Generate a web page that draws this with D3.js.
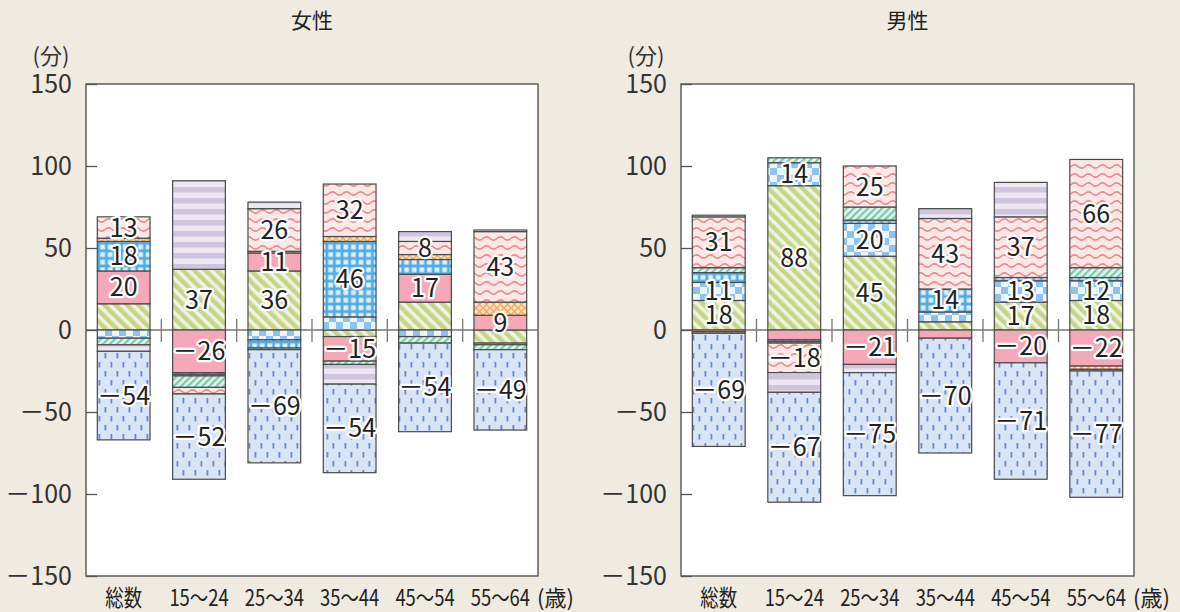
<!DOCTYPE html>
<html lang="ja">
<head>
<meta charset="utf-8">
<script src="https://cdn.jsdelivr.net/npm/d3@7"></script>
<style>
  html, body { margin: 0; padding: 0; background: #efebe1; }
  svg { display: block; }
</style>
</head>
<body>
<svg id="chart" width="1180" height="612"></svg>
<script>
// ---- data (分) ----
const groups = ["総数", "15〜24", "25〜34", "35〜44", "45〜54", "55〜64"];
const seriesKeys = ["green", "pink", "checker", "grid", "orange", "teal", "wave", "purple", "dash"];
const yTicks = [-150, -100, -50, 0, 50, 100, 150];

// 女性
const femaleGreen   = [16, 37, 36, -4, 17, -8];
const femalePink    = [20, -26, 11, -15, 17, 9];
const femaleChecker = [-5, -1, -6, 8, -4, -1];
const femaleGrid    = [18, -1, -5, 46, 9, 0];
const femaleOrange  = [2, 0, 1, 3, 3, 8];
const femaleTeal    = [-4, -7, -1, -2, -4, -3];
const femaleWave    = [13, -4, 26, 32, 8, 43];
const femalePurple  = [-4, 54, 4, -12, 6, 1];
const femaleDash    = [-54, -52, -69, -54, -54, -49];
const femaleLabeled = [
  ["pink", "grid", "wave", "dash"],
  ["green", "pink", "dash"],
  ["green", "pink", "wave", "dash"],
  ["grid", "wave", "pink", "dash"],
  ["pink", "wave", "dash"],
  ["pink", "wave", "dash"]
];

// 男性
const maleGreen   = [18, 88, 45, 5, 17, 18];
const malePink    = [-1, -6, -21, -5, -20, -22];
const maleChecker = [11, 14, 20, 6, 13, 12];
const maleGrid    = [6, -1, 2, 14, 2, 2];
const maleOrange  = [-1, -1, 0, 0, 0, -2];
const maleTeal    = [3, 3, 8, 0, 0, 6];
const maleWave    = [31, -18, 25, 43, 37, 66];
const malePurple  = [1, -12, -5, 6, 21, -1];
const maleDash    = [-69, -67, -75, -70, -71, -77];
const maleLabeled = [
  ["green", "checker", "wave", "dash"],
  ["green", "checker", "wave", "dash"],
  ["green", "checker", "wave", "pink", "dash"],
  ["grid", "wave", "dash"],
  ["green", "checker", "wave", "pink", "dash"],
  ["green", "checker", "wave", "pink", "dash"]
];

const femaleSeries = {green: femaleGreen, pink: femalePink, checker: femaleChecker, grid: femaleGrid,
  orange: femaleOrange, teal: femaleTeal, wave: femaleWave, purple: femalePurple, dash: femaleDash};
const maleSeries = {green: maleGreen, pink: malePink, checker: maleChecker, grid: maleGrid,
  orange: maleOrange, teal: maleTeal, wave: maleWave, purple: malePurple, dash: maleDash};

// ---- drawing ----
const FONT = "'Noto Sans CJK JP', 'Noto Sans', sans-serif";
const svg = d3.select("#chart");
svg.append("rect").attr("width", 1180).attr("height", 612).attr("fill", "#efebe1");

const defs = svg.append("defs");
function pattern(id, w, h, transform) {
  const p = defs.append("pattern").attr("id", id)
    .attr("patternUnits", "userSpaceOnUse").attr("width", w).attr("height", h);
  if (transform) p.attr("patternTransform", transform);
  return p;
}
// yellow-green diagonal stripes
let p = pattern("p-green", 8, 8, "rotate(-45)");
p.append("rect").attr("width", 8).attr("height", 8).attr("fill", "#f0f4dc");
p.append("rect").attr("width", 4.4).attr("height", 8).attr("fill", "#c5d58b");
// blue checker
p = pattern("p-checker", 14, 14);
p.append("rect").attr("width", 14).attr("height", 14).attr("fill", "#ecf5fc");
p.append("rect").attr("width", 7).attr("height", 7).attr("fill", "#8cc4ee");
p.append("rect").attr("x", 7).attr("y", 7).attr("width", 7).attr("height", 7).attr("fill", "#8cc4ee");
// blue grid
p = pattern("p-grid", 7.6, 7.6);
p.append("rect").attr("width", 7.6).attr("height", 7.6).attr("fill", "#52abe5");
p.append("rect").attr("x", 1.4).attr("y", 1.4).attr("width", 4.8).attr("height", 4.8).attr("fill", "#def0fb");
// orange lattice
p = pattern("p-orange", 7, 7);
p.append("rect").attr("width", 7).attr("height", 7).attr("fill", "#fde3c2");
p.append("path").attr("d", "M0,0L7,7M7,0L0,7").attr("stroke", "#f4ab5c").attr("stroke-width", 1.4);
// teal thin stripes
p = pattern("p-teal", 5, 5, "rotate(45)");
p.append("rect").attr("width", 5).attr("height", 5).attr("fill", "#e3f4ec");
p.append("rect").attr("width", 2.2).attr("height", 5).attr("fill", "#78cca9");
// red waves
p = pattern("p-wave", 14, 9);
p.append("rect").attr("width", 14).attr("height", 9).attr("fill", "#fde8e7");
p.append("path").attr("d", "M-7,4.5Q-3.5,1.2 0,4.5T7,4.5T14,4.5T21,4.5")
  .attr("fill", "none").attr("stroke", "#e98a8a").attr("stroke-width", 1.5);
// purple horizontal bands
p = pattern("p-purple", 10, 11);
p.append("rect").attr("width", 10).attr("height", 11).attr("fill", "#ece7f2");
p.append("rect").attr("width", 10).attr("height", 5.5).attr("fill", "#cfc6de");
// blue dashes
p = pattern("p-dash", 12, 18);
p.append("rect").attr("width", 12).attr("height", 18).attr("fill", "#d9e4f4");
p.append("rect").attr("x", 2.5).attr("y", 2).attr("width", 1.8).attr("height", 5.5).attr("fill", "#6689d4");
p.append("rect").attr("x", 8.5).attr("y", 11).attr("width", 1.8).attr("height", 5.5).attr("fill", "#6689d4");

const fills = {
  green: "url(#p-green)", pink: "#f5a9b8", checker: "url(#p-checker)", grid: "url(#p-grid)",
  orange: "url(#p-orange)", teal: "url(#p-teal)", wave: "url(#p-wave)", purple: "url(#p-purple)",
  dash: "url(#p-dash)"
};

const panels = [
  {title: "女性", x0: 86, x1: 538, series: femaleSeries, labeled: femaleLabeled},
  {title: "男性", x0: 681, x1: 1134, series: maleSeries, labeled: maleLabeled}
];

const yTop = 84, yBottom = 576;
const y = d3.scaleLinear().domain([-150, 150]).range([yBottom, yTop]);
// numbers with a wide minus sign
const fmt = v => (v < 0 ? "－" : "") + Math.abs(v);

panels.forEach(panel => {
  const g = svg.append("g");
  const x = d3.scaleBand().domain(groups).range([panel.x0, panel.x1])
    .paddingInner(0.3).paddingOuter(0.15);

  const rows = groups.map((grp, i) => {
    const r = {group: grp, index: i};
    seriesKeys.forEach(k => { r[k] = panel.series[k][i]; });
    return r;
  });
  const stacked = d3.stack().keys(seriesKeys).offset(d3.stackOffsetDiverging)(rows);

  // plot area
  g.append("rect").attr("x", panel.x0).attr("y", yTop)
    .attr("width", panel.x1 - panel.x0).attr("height", yBottom - yTop).attr("fill", "#fff");

  // zero line
  g.append("line").attr("x1", panel.x0).attr("x2", panel.x1)
    .attr("y1", y(0)).attr("y2", y(0)).attr("stroke", "#777").attr("stroke-width", 1.3);

  // bars
  stacked.forEach(layer => {
    g.append("g").selectAll("rect")
      .data(layer.filter(d => d[1] !== d[0]))
      .join("rect")
      .attr("x", d => x(d.data.group))
      .attr("width", x.bandwidth())
      .attr("y", d => y(Math.max(d[0], d[1])))
      .attr("height", d => Math.abs(y(d[0]) - y(d[1])))
      .attr("fill", fills[layer.key])
      .attr("stroke", "#4a4a4a").attr("stroke-width", 1.2);
  });

  // category separators on the zero line
  const step = x.step();
  g.append("g").selectAll("line")
    .data(groups.slice(1))
    .join("line")
    .attr("x1", d => x(d) - step * x.paddingInner() / 2)
    .attr("x2", d => x(d) - step * x.paddingInner() / 2)
    .attr("y1", y(0) - 11).attr("y2", y(0) + 12)
    .attr("stroke", "#777").attr("stroke-width", 1.3);

  // frame
  g.append("rect").attr("x", panel.x0).attr("y", yTop)
    .attr("width", panel.x1 - panel.x0).attr("height", yBottom - yTop)
    .attr("fill", "none").attr("stroke", "#555").attr("stroke-width", 1.4);

  // y axis
  const ax = g.append("g").attr("transform", `translate(${panel.x0},0)`)
    .call(d3.axisLeft(y).tickValues(yTicks).tickSize(-11).tickPadding(14).tickFormat(fmt));
  ax.select(".domain").remove();
  ax.selectAll(".tick line").attr("stroke", "#555").attr("stroke-width", 1.3);
  ax.selectAll(".tick text").attr("fill", "#333");
  ax.attr("font-size", 25).attr("font-family", FONT);

  // value labels
  const labelG = g.append("g").attr("font-family", FONT).attr("font-size", 25)
    .attr("text-anchor", "middle");
  stacked.forEach(layer => {
    labelG.append("g").selectAll("text")
      .data(layer.filter(d => panel.labeled[d.data.index].includes(layer.key)))
      .join("text")
      .attr("x", d => x(d.data.group) + x.bandwidth() / 2)
      .attr("y", d => y((d[0] + d[1]) / 2))
      .attr("dy", "0.36em")
      .attr("fill", "#222")
      .attr("stroke", "#fff").attr("stroke-width", 4.5)
      .attr("stroke-linejoin", "round").attr("paint-order", "stroke")
      .text(d => fmt(d.data[layer.key]));
  });

  // category labels
  g.append("g").selectAll("text")
    .data(groups)
    .join("text")
    .attr("transform", d => `translate(${x(d) + x.bandwidth() / 2},606) scale(0.8,1)`)
    .attr("text-anchor", "middle")
    .attr("font-family", FONT).attr("font-size", 23).attr("fill", "#222")
    .text(d => d);
  g.append("text").attr("x", panel.x1 - 1).attr("y", 606)
    .attr("font-family", FONT).attr("font-size", 22).attr("fill", "#222")
    .text("(歳)");

  // panel title and unit
  g.append("text").attr("x", (panel.x0 + panel.x1) / 2).attr("y", 28)
    .attr("text-anchor", "middle").attr("font-family", FONT).attr("font-size", 21)
    .attr("fill", "#222").text(panel.title);
  g.append("text").attr("x", panel.x0 - 35).attr("y", 64)
    .attr("text-anchor", "middle").attr("font-family", FONT).attr("font-size", 22)
    .attr("fill", "#333").text("(分)");
});
</script>
</body>
</html>
